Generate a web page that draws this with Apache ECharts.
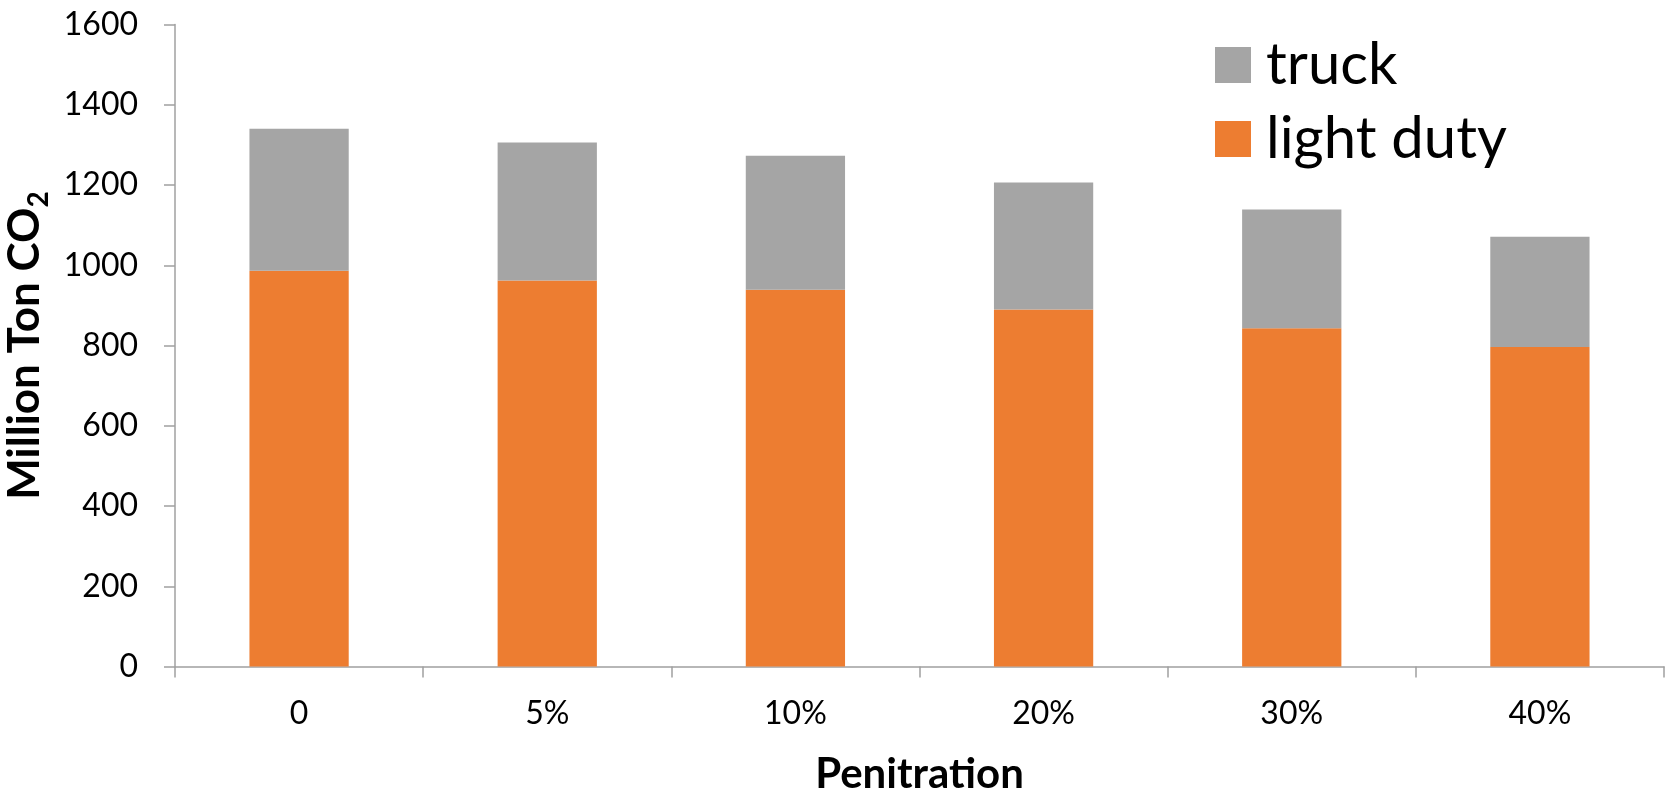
<!DOCTYPE html>
<html>
<head>
<meta charset="utf-8">
<script src="https://cdn.jsdelivr.net/npm/echarts@6/dist/echarts.min.js"></script>
<style>
html,body{margin:0;padding:0;background:#fff;}
#chart{width:1667px;height:791px;}
</style>
</head>
<body>
<div id="chart"></div>
<script>
const categories = ['0', '5%', '10%', '20%', '30%', '40%'];
const lightDuty = [986, 962, 939, 890, 843, 796];
const truck = [354, 344, 334, 316, 296, 275];
const yTicks = { min: 0, max: 1600, interval: 200 };

const FONT = 'Lato';
const chart = echarts.init(document.getElementById('chart'));
chart.setOption({
  animation: false,
  backgroundColor: '#fff',
  grid: { left: 175, right: 3, top: 24.5, bottom: 124.5, containLabel: false, outerBoundsMode: 'none' },
  legend: {
    orient: 'vertical',
    left: 1210, top: 31,
    data: ['truck', 'light duty'],
    itemWidth: 36, itemHeight: 36, itemGap: 16,
    icon: 'rect',
    textStyle: { fontFamily: FONT, fontSize: 58, color: '#000', padding: [0,0,0,10] }
  },
  xAxis: {
    type: 'category',
    data: categories,
    name: 'Penitration',
    nameLocation: 'middle',
    nameGap: 87,
    nameTextStyle: { fontFamily: FONT, fontSize: 42, fontWeight: 'bold', color: '#000' },
    axisLine: { lineStyle: { color: '#a0a0a0', width: 1.5 } },
    axisTick: { show: true, length: 11, lineStyle: { color: '#a0a0a0', width: 1.5 } },
    axisLabel: { fontFamily: FONT, fontSize: 32, color: '#000', margin: 31 }
  },
  yAxis: {
    type: 'value',
    min: yTicks.min, max: yTicks.max, interval: yTicks.interval,
    name: '{a|Million Ton CO}{b|2}',
    nameLocation: 'middle',
    nameRotate: 90,
    nameGap: 122,
    nameTextStyle: {
      rich: {
        a: { fontFamily: FONT, fontSize: 44, fontWeight: 'bold', color: '#000', lineHeight: 56, verticalAlign: 'middle' },
        b: { fontFamily: FONT, fontSize: 28, fontWeight: 'bold', color: '#000', lineHeight: 56, verticalAlign: 'bottom' }
      }
    },
    splitLine: { show: false },
    axisLine: { show: true, lineStyle: { color: '#a0a0a0', width: 1.5 } },
    axisTick: { show: true, length: 11, lineStyle: { color: '#a0a0a0', width: 1.5 } },
    axisLabel: { fontFamily: FONT, fontSize: 32, color: '#000', margin: 37, formatter: function (v) { return String(v); } }
  },
  series: [
    {
      name: 'light duty', type: 'bar', stack: 'total', data: lightDuty,
      barWidth: '40%',
      itemStyle: { color: '#ED7D31' }
    },
    {
      name: 'truck', type: 'bar', stack: 'total', data: truck,
      barWidth: '40%',
      itemStyle: { color: '#A5A5A5' }
    }
  ]
});
</script>
</body>
</html>
